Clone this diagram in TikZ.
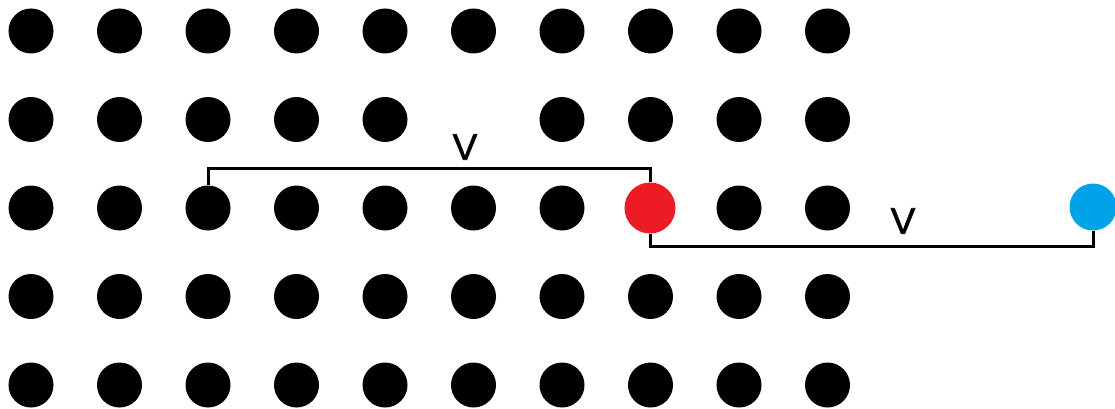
\documentclass[tikz,border=0pt]{standalone}
\usepackage{fontspec}
\setmainfont{Liberation Sans}
\newfontfamily\vfont[FakeBold=1.5]{Liberation Sans}
\definecolor{dotred}{HTML}{ED1C24}
\definecolor{dotblue}{HTML}{00A2E8}
\begin{document}
\begin{tikzpicture}[x=1pt,y=-1pt,
  dot/.style={circle,fill=black,inner sep=0pt,minimum size=45pt},
  bigdot/.style={circle,inner sep=0pt,minimum size=51pt},
  link/.style={line width=3pt},
  lbl/.style={font=\vfont\fontsize{37}{37}\selectfont,inner sep=0pt}]
\useasboundingbox (0,0) rectangle (1115,409);
\foreach \i in {0,...,9}{
  \foreach \j in {0,...,4}{
    \pgfmathsetmacro{\skip}{(\i==5 && \j==1) || (\i==7 && \j==2) ? 1 : 0}
    \ifdim\skip pt<0.5pt
      \node[dot] (d\i\j) at ({31+88.5*\i},{31+88.5*\j}) {};
    \fi
  }
}
\node[bigdot,fill=dotred] (red) at (650,208) {};
\node[dot,fill=dotblue,minimum size=47pt] (blue) at (1093,207) {};
\coordinate (top) at (0,168);
\coordinate (bot) at (0,246);
\draw[link] (d22.north) -- (d22.north |- top) -- (red.north |- top) -- (red.north);
\draw[link] (red.south) -- (red.south |- bot) -- (blue.south |- bot) -- (blue.south);
\node[lbl] (v1) at (465,147) {V};
\node[lbl] (v2) at (903,221) {V};
\end{tikzpicture}
\end{document}
